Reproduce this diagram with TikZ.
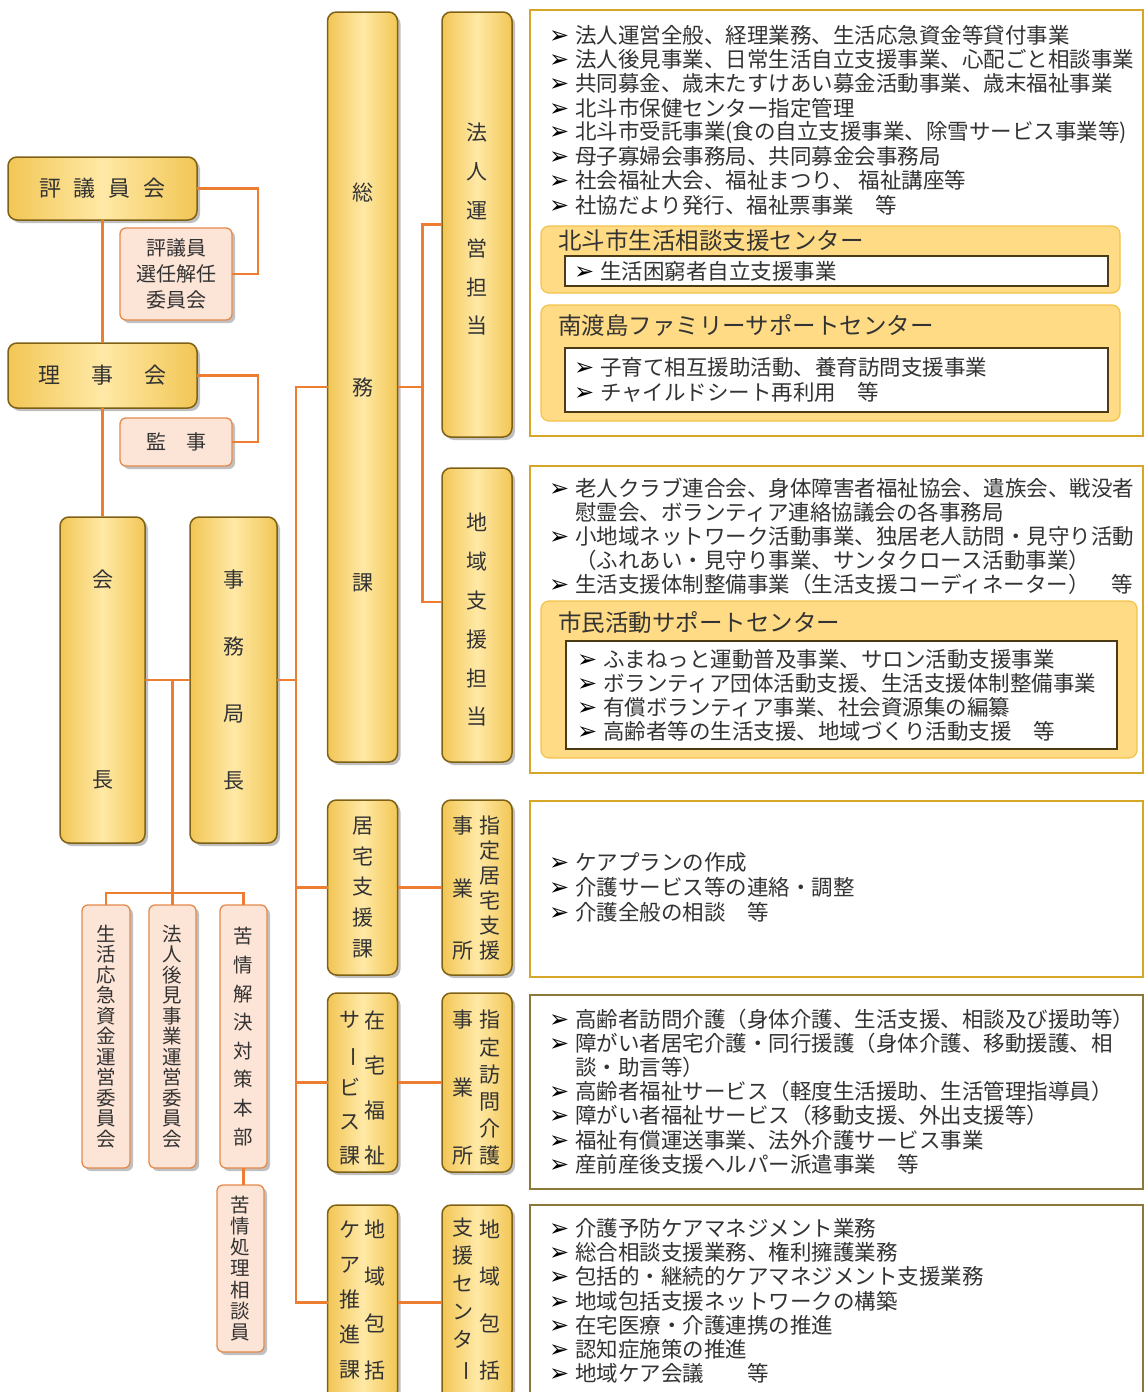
\documentclass[tikz,border=0pt]{standalone}
\usepackage{fontspec}
\usepackage{graphicx}
\setmainfont{Noto Sans CJK JP}
\newfontfamily\dejavu{DejaVu Sans}
\usetikzlibrary{shadows,calc}
\definecolor{lineor}{HTML}{ED7D31}
\definecolor{txt}{HTML}{333333}
\definecolor{goldA}{HTML}{FFE9A6}
\definecolor{goldB}{HTML}{F2C655}
\definecolor{goldD}{HTML}{7E6114}
\definecolor{pinkF}{HTML}{FCE4D6}
\definecolor{pinkD}{HTML}{E48A4C}
\definecolor{boxG}{HTML}{D6A628}
\definecolor{boxO}{HTML}{8C7838}
\definecolor{subF}{HTML}{FFDB85}
\definecolor{subD}{HTML}{F3C24A}
\definecolor{inD}{HTML}{4A3B14}
\newcommand\myb{\makebox[26pt][l]{\raisebox{0pt}{\color{black}\dejavu\fontsize{24}{24}\selectfont ➢}}}
\newcommand\myc{\hspace*{26pt}}
\newcommand\myvb{\rotatebox[origin=c]{-90}{ー}}
\tikzset{
 conn/.style={draw=lineor, line width=2.4pt},
 myshadow/.style={drop shadow={shadow xshift=3pt, shadow yshift=-3pt, opacity=0.35, fill=black!70}},
 gold/.style={draw=goldD, line width=1.5pt, rounded corners=9pt, inner sep=0pt, outer sep=0pt,
   left color=goldB, right color=goldB, middle color=goldA, text=txt, align=center, myshadow},
 pinkbox/.style={draw=pinkD, line width=1.3pt, rounded corners=6pt, fill=pinkF, inner sep=0pt,
   outer sep=0pt, text=txt, align=center, myshadow},
 infobox/.style={draw=boxG, line width=1.6pt, fill=white, inner sep=0pt, outer sep=0pt},
 subbox/.style={draw=subD, line width=1.2pt, fill=subF, rounded corners=8pt, inner sep=0pt, outer sep=0pt},
 inbox/.style={draw=inD, line width=1.6pt, fill=white, inner sep=0pt, outer sep=0pt},
 itm/.style={anchor=west, inner sep=0pt, text=txt, font=\fontsize{21.5}{24}\selectfont},
 ttl/.style={anchor=west, inner sep=0pt, text=txt, font=\fontsize{23.5}{26}\selectfont},
 vcol/.style={inner sep=0pt, align=center, text=txt},
}
\begin{document}
\begin{tikzpicture}[x=1pt,y=-1pt]
\useasboundingbox[fill=white] (0,0) rectangle (1146,1392);

% ---------- right information boxes ----------
\node[infobox, minimum width=613pt, minimum height=426pt] (B1) at (836.5,223) {};
\node[infobox, minimum width=613pt, minimum height=307pt] (B2) at (836.5,619.5) {};
\node[infobox, minimum width=613pt, minimum height=176pt] (B3) at (836.5,889) {};
\node[infobox, draw=boxO, minimum width=613pt, minimum height=194pt] (B4) at (836.5,1092) {};
\node[infobox, draw=boxO, minimum width=613pt, minimum height=205pt] (B5) at (836.5,1307.5) {};

\foreach [count=\i] \t in {
 {\myb 法人運営全般、経理業務、生活応急資金等貸付事業},
 {\myb 法人後見事業、日常生活自立支援事業、心配ごと相談事業},
 {\myb 共同募金、歳末たすけあい募金活動事業、歳末福祉事業},
 {\myb 北斗市保健センター指定管理},
 {\myb 北斗市受託事業(食の自立支援事業、除雪サービス事業等)},
 {\myb 母子寡婦会事務局、共同募金会事務局},
 {\myb 社会福祉大会、福祉まつり、 福祉講座等},
 {\myb 社協だより発行、福祉票事業　等}}
 \node[itm] (b1l\i) at (549,{35+24.3*(\i-1)}) {\t};

\node[subbox, minimum width=579pt, minimum height=67pt] (S1) at (830.5,259.5) {};
\node[inbox, minimum width=543pt, minimum height=30pt] (I1) at (836.5,271) {};
\node[ttl] (T1) at (558,241) {北斗市生活相談支援センター};
\node[itm] (s1l1) at (574,271) {\myb 生活困窮者自立支援事業};

\node[subbox, minimum width=579pt, minimum height=116pt] (S2) at (830.5,363) {};
\node[inbox, minimum width=543pt, minimum height=64pt] (I2) at (836.5,380) {};
\node[ttl] (T2) at (558,325) {南渡島ファミリーサポートセンター};
\node[itm] (s2l1) at (574,367) {\myb 子育て相互援助活動、養育訪問支援事業};
\node[itm] (s2l2) at (574,392) {\myb チャイルドシート再利用　等};

\foreach [count=\i] \t in {
 {\myb 老人クラブ連合会、身体障害者福祉協会、遺族会、戦没者},
 {\myc 慰霊会、ボランティア連絡協議会の各事務局},
 {\myb 小地域ネットワーク活動事業、独居老人訪問・見守り活動},
 {\myc （ふれあい・見守り事業、サンタクロース活動事業）},
 {\myb 生活支援体制整備事業（生活支援コーディネーター）　等}}
 \node[itm] (b2l\i) at (549,{488+24.2*(\i-1)}) {\t};

\node[subbox, minimum width=596pt, minimum height=157pt] (S3) at (839,679.5) {};
\node[inbox, minimum width=551pt, minimum height=108pt] (I3) at (841.5,695) {};
\node[ttl] (T3) at (558,623) {市民活動サポートセンター};
\foreach [count=\i] \t in {
 {\myb ふまねっと運動普及事業、サロン活動支援事業},
 {\myb ボランティア団体活動支援、生活支援体制整備事業},
 {\myb 有償ボランティア事業、社会資源集の編纂},
 {\myb 高齢者等の生活支援、地域づくり活動支援　等}}
 \node[itm] (s3l\i) at (577,{659+24*(\i-1)}) {\t};

\foreach [count=\i] \t in {
 {\myb ケアプランの作成},
 {\myb 介護サービス等の連絡・調整},
 {\myb 介護全般の相談　等}}
 \node[itm] (b3l\i) at (549,{862+25*(\i-1)}) {\t};

\foreach [count=\i] \t in {
 {\myb 高齢者訪問介護（身体介護、生活支援、相談及び援助等）},
 {\myb 障がい者居宅介護・同行援護（身体介護、移動援護、相},
 {\myc 談・助言等）},
 {\myb 高齢者福祉サービス（軽度生活援助、生活管理指導員）},
 {\myb 障がい者福祉サービス（移動支援、外出支援等）},
 {\myb 福祉有償運送事業、法外介護サービス事業},
 {\myb 産前産後支援ヘルパー派遣事業　等}}
 \node[itm] (b4l\i) at (549,{1019+24.2*(\i-1)}) {\t};

\foreach [count=\i] \t in {
 {\myb 介護予防ケアマネジメント業務},
 {\myb 総合相談支援業務、権利擁護業務},
 {\myb 包括的・継続的ケアマネジメント支援業務},
 {\myb 地域包括支援ネットワークの構築},
 {\myb 在宅医療・介護連携の推進},
 {\myb 認知症施策の推進},
 {\myb 地域ケア会議　　等}}
 \node[itm] (b5l\i) at (549,{1228+24.3*(\i-1)}) {\t};

% ---------- left organisation ----------
\node[gold, minimum width=189pt, minimum height=63pt, font=\fontsize{22}{26}\selectfont] (hyogi) at (102.5,188.5)
  {評\hspace{13pt}議\hspace{13pt}員\hspace{13pt}会};
\node[pinkbox, minimum width=112pt, minimum height=92pt, font=\fontsize{20}{26}\selectfont] (senin) at (176,274)
  {評議員\\選任解任\\委員会};
\node[gold, minimum width=189pt, minimum height=65pt, font=\fontsize{22}{26}\selectfont] (riji) at (102.5,375.5)
  {理\hspace{31pt}事\hspace{31pt}会};
\node[pinkbox, minimum width=112pt, minimum height=48pt, font=\fontsize{20}{26}\selectfont] (kanji) at (176,442)
  {監\hspace{20pt}事};
\node[gold, minimum width=85pt, minimum height=326pt, font=\fontsize{21}{200}\selectfont] (kaicho) at (102.5,680)
  {会\\長};
\node[gold, minimum width=87pt, minimum height=326pt, font=\fontsize{21}{66.7}\selectfont] (jimu) at (233.5,680)
  {事\\務\\局\\長};

\node[pinkbox, minimum width=48pt, minimum height=263pt, font=\fontsize{19.5}{20.5}\selectfont] (com1) at (106,1036.5)
  {生\\活\\応\\急\\資\\金\\運\\営\\委\\員\\会};
\node[pinkbox, minimum width=47pt, minimum height=263pt, font=\fontsize{19.5}{20.5}\selectfont] (com2) at (172.5,1036.5)
  {法\\人\\後\\見\\事\\業\\運\\営\\委\\員\\会};
\node[pinkbox, minimum width=47pt, minimum height=263pt, font=\fontsize{19.5}{28.6}\selectfont] (com3) at (243.5,1036.5)
  {苦\\情\\解\\決\\対\\策\\本\\部};
\node[pinkbox, minimum width=47pt, minimum height=167pt, font=\fontsize{19.5}{21.3}\selectfont] (kujo) at (240.5,1268.5)
  {苦\\情\\処\\理\\相\\談\\員};

% ---------- divisions ----------
\node[gold, minimum width=70pt, minimum height=750pt, font=\fontsize{21}{195}\selectfont] (soumu) at (362.5,387)
  {総\\務\\課};
\node[gold, minimum width=70pt, minimum height=425pt] (hojin) at (477,224.5) {};
\node[vcol, font=\fontsize{21}{38.6}\selectfont] (hojinT) at (477,229.5) {法\\人\\運\\営\\担\\当};
\node[gold, minimum width=70pt, minimum height=294pt] (chiiki) at (477,615) {};
\node[vcol, font=\fontsize{21}{38.8}\selectfont] (chiikiT) at (477,620) {地\\域\\支\\援\\担\\当};

\node[gold, minimum width=70pt, minimum height=175pt, font=\fontsize{21}{30.75}\selectfont] (kyotaku) at (362.5,887.5)
  {居\\宅\\支\\援\\課};
\node[gold, minimum width=70pt, minimum height=175pt] (shitei1) at (477,887.5) {};
\node[vcol, font=\fontsize{21}{62.5}\selectfont] (shitei1L) at (463,888.5) {事\\業\\所};
\node[vcol, font=\fontsize{21}{25}\selectfont] (shitei1R) at (490,888.5) {指\\定\\居\\宅\\支\\援};

\node[gold, minimum width=70pt, minimum height=179pt] (zaitaku) at (362.5,1082.5) {};
\node[vcol, font=\fontsize{21}{34}\selectfont] (zaitakuL) at (350,1088) {サ\\\myvb\\ビ\\ス\\課};
\node[vcol, font=\fontsize{21}{45.3}\selectfont] (zaitakuR) at (375,1088) {在\\宅\\福\\祉};
\node[gold, minimum width=70pt, minimum height=179pt] (shitei2) at (477,1082.5) {};
\node[vcol, font=\fontsize{21}{68}\selectfont] (shitei2L) at (463,1088) {事\\業\\所};
\node[vcol, font=\fontsize{21}{27.2}\selectfont] (shitei2R) at (490,1088) {指\\定\\訪\\問\\介\\護};

\node[gold, minimum width=70pt, minimum height=195pt] (houkatsu) at (362.5,1302.5) {};
\node[vcol, font=\fontsize{21}{35}\selectfont] (houkatsuL) at (350,1300) {ケ\\ア\\推\\進\\課};
\node[vcol, font=\fontsize{21}{46.7}\selectfont] (houkatsuR) at (375,1300) {地\\域\\包\\括};
\node[gold, minimum width=70pt, minimum height=195pt] (center) at (477,1302.5) {};
\node[vcol, font=\fontsize{21}{28}\selectfont] (centerL) at (463,1300) {支\\援\\セ\\ン\\タ\\\myvb};
\node[vcol, font=\fontsize{21}{46.7}\selectfont] (centerR) at (490,1300) {地\\域\\包\\括};

% ---------- connectors ----------
\draw[conn] (hyogi.east) -- ++(61,0) |- (senin.east);
\draw[conn] (riji.east) -- ++(61,0) |- (kanji.east);
\draw[conn] (hyogi.south) -- (riji.north);
\draw[conn] (riji.south) -- (kaicho.north);
\draw[conn] (kaicho.east) -- (jimu.west);
\coordinate (busA) at ($(com2.north)+(0,-12)$);
\draw[conn] (com2.north) -- (com2.north |- kaicho.east);
\draw[conn] (com1.north) |- (busA) -| (com3.north);
\draw[conn] (com3.south) -- (com3.south |- kujo.north);

\draw[conn] (jimu.east) -- ++(19,0) coordinate (busM);
\coordinate (busTop) at (busM |- soumu.west);
\coordinate (busBot) at (busM |- houkatsu.west);
\draw[conn] (soumu.west) -- (busTop) -- (busBot) -- (houkatsu.west);
\draw[conn] (busM |- kyotaku.west) -- (kyotaku.west);
\draw[conn] (busM |- zaitaku.west) -- (zaitaku.west);

\draw[conn] (soumu.east) -- ++(25,0) coordinate (busB);
\draw[conn] (hojin.west) -| (busB) |- ([yshift=13pt]chiiki.west);

\draw[conn] (kyotaku.east) -- (shitei1.west);
\draw[conn] (zaitaku.east) -- (shitei2.west);
\draw[conn] (houkatsu.east) -- (center.west);
\end{tikzpicture}
\end{document}
